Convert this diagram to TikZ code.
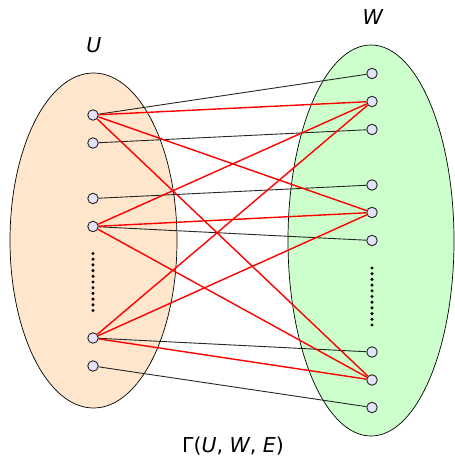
\documentclass[tikz,border=0pt]{standalone}
\usepackage{fontspec}
\setmainfont{DejaVu Sans}
\usepackage{xcolor}
\usetikzlibrary{shapes.geometric}
\definecolor{peach}{HTML}{FFE6CC}
\definecolor{mint}{HTML}{CCFFCC}
\definecolor{lav}{HTML}{E2E2F8}
\tikzset{
  part/.style={ellipse, draw=black, line width=0.7pt, inner sep=0pt},
  vert/.style={circle, draw=black!85, fill=lav, line width=0.9pt, inner sep=0pt, minimum size=10.5pt},
  plain/.style={draw=black!85, line width=0.9pt},
  hot/.style={draw=red, line width=1.4pt},
  vdots/.style={line width=3.4pt, line cap=round, dash pattern=on 0pt off 5.7pt},
  lbl/.style={font=\fontsize{20.5}{24}\selectfont},
}

\begin{document}
\begin{tikzpicture}[x=1pt, y=-1pt]
\useasboundingbox (0,0) rectangle (454,462);
% the two sides
\node[part, fill=peach, minimum width=167pt, minimum height=335pt] (U) at (93.5,240.5) {};
\node[part, fill=mint, minimum width=166pt, minimum height=391pt] (W) at (371,240.5) {};
\node[lbl] (ulab) at (94,45) {\textit{U}};
\node[lbl] (wlab) at (373,17) {\textit{W}};
\node[lbl] (glab) at (233,446) {Γ(\textit{U}, \textit{W}, \textit{E})};
% left vertices
\node[vert] (l1) at (93,115) {};
\node[vert] (l2) at (93,143) {};
\node[vert] (l3) at (93,198.5) {};
\node[vert] (l4) at (93,226.5) {};
\node[vert] (l5) at (93,338) {};
\node[vert] (l6) at (93,366) {};
% right vertices
\node[vert] (r1) at (372,73.5) {};
\node[vert] (r2) at (372,101.5) {};
\node[vert] (r3) at (372,129.5) {};
\node[vert] (r4) at (372,185) {};
\node[vert] (r5) at (372,212.5) {};
\node[vert] (r6) at (372,240.5) {};
\node[vert] (r7) at (372,352) {};
\node[vert] (r8) at (372,380) {};
\node[vert] (r9) at (372,407.5) {};
% dots
\draw[vdots] (93,253.5) -- (93,311);
\draw[vdots] (372,268) -- (372,325);
% matching
\draw[plain] (l1) -- (r1);
\draw[plain] (l2) -- (r3);
\draw[plain] (l3) -- (r4);
\draw[plain] (l4) -- (r6);
\draw[plain] (l5) -- (r7);
\draw[plain] (l6) -- (r9);
% red edges
\draw[hot] (l1) -- (r2);
\draw[hot] (l1) -- (r5);
\draw[hot] (l1) -- (r8);
\draw[hot] (l4) -- (r2);
\draw[hot] (l4) -- (r5);
\draw[hot] (l4) -- (r8);
\draw[hot] (l5) -- (r2);
\draw[hot] (l5) -- (r5);
\draw[hot] (l5) -- (r8);
\end{tikzpicture}
\end{document}
